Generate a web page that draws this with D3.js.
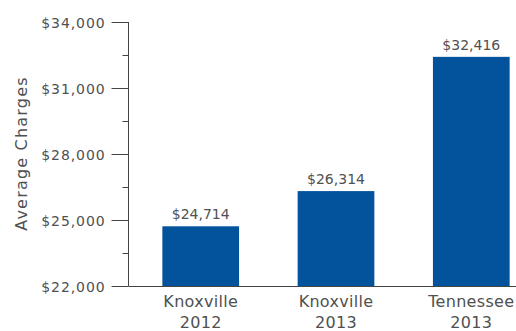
<!DOCTYPE html>
<html>
<head>
<meta charset="utf-8">
<script src="https://cdn.jsdelivr.net/npm/d3@7"></script>
<style>
  html, body { margin: 0; padding: 0; background: #fff; }
  svg text { font-family: "DejaVu Sans", sans-serif; fill: #505050; }
</style>
</head>
<body>
<svg id="chart" width="516" height="331"></svg>
<script>
// Average charges by location and year
const categories = ["Knoxville 2012", "Knoxville 2013", "Tennessee 2013"];
const categoryLines = [["Knoxville", "2012"], ["Knoxville", "2013"], ["Tennessee", "2013"]];
const values = [24714, 26314, 32416];
const majorTicks = [22000, 25000, 28000, 31000, 34000];
const minorTicks = [23500, 26500, 29500, 32500];

const svg = d3.select("#chart");
const axisX = 128.5;
const baseY = 286;
const topY = 22;

const x = d3.scaleBand()
  .domain(categories)
  .range([128, 544])
  .paddingInner(0.433)
  .paddingOuter(0.254);

const y = d3.scaleLinear()
  .domain([22000, 34000])
  .range([baseY, topY]);

const fmt = v => "$" + d3.format(",")(v);

// bars
svg.append("g").selectAll("rect")
  .data(values)
  .join("rect")
  .attr("x", (d, i) => x(categories[i]))
  .attr("width", x.bandwidth())
  .attr("y", d => y(d))
  .attr("height", d => baseY - y(d))
  .attr("fill", "#02529c");

// value labels
svg.append("g").selectAll("text")
  .data(values)
  .join("text")
  .attr("x", (d, i) => x(categories[i]) + x.bandwidth() / 2)
  .attr("y", d => y(d) - 7)
  .attr("text-anchor", "middle")
  .style("font-size", "14px")
  .text(d => fmt(d));

// y axis
const yAxis = svg.append("g").attr("transform", `translate(${axisX},0)`);
yAxis.call(d3.axisLeft(y).tickValues(majorTicks).tickSize(17).tickPadding(6).tickFormat(fmt));
yAxis.select(".domain").remove();
yAxis.selectAll(".tick line").attr("stroke", "#444");
yAxis.selectAll(".tick text")
  .attr("fill", "#505050")
  .style("font-size", "14px")
  .style("letter-spacing", "0.9px")
  .attr("dy", "0.36em");
yAxis.append("g").selectAll("line")
  .data(minorTicks)
  .join("line")
  .attr("x1", -6).attr("x2", 0)
  .attr("y1", d => Math.round(y(d)) + 0.5).attr("y2", d => Math.round(y(d)) + 0.5)
  .attr("stroke", "#444");
yAxis.append("line")
  .attr("x1", 0).attr("x2", 0)
  .attr("y1", y(34000)).attr("y2", baseY)
  .attr("stroke", "#444");

// x axis baseline
svg.append("line")
  .attr("x1", axisX).attr("x2", 516)
  .attr("y1", baseY + 0.5).attr("y2", baseY + 0.5)
  .attr("stroke", "#444");

// category labels
const catG = svg.append("g").selectAll("text")
  .data(categoryLines)
  .join("text")
  .attr("text-anchor", "middle")
  .style("font-size", "16px")
  .style("letter-spacing", "0.3px")
  .attr("transform", (d, i) => `translate(${x(categories[i]) + x.bandwidth() / 2},0)`);
catG.selectAll("tspan")
  .data(d => d)
  .join("tspan")
  .attr("x", 0)
  .attr("y", (d, j) => 306.5 + j * 21.5)
  .text(d => d);

// y axis title
svg.append("text")
  .attr("transform", "translate(27,153.5) rotate(-90)")
  .attr("text-anchor", "middle")
  .style("font-size", "16px")
  .style("letter-spacing", "1.2px")
  .text("Average Charges");
</script>
</body>
</html>
